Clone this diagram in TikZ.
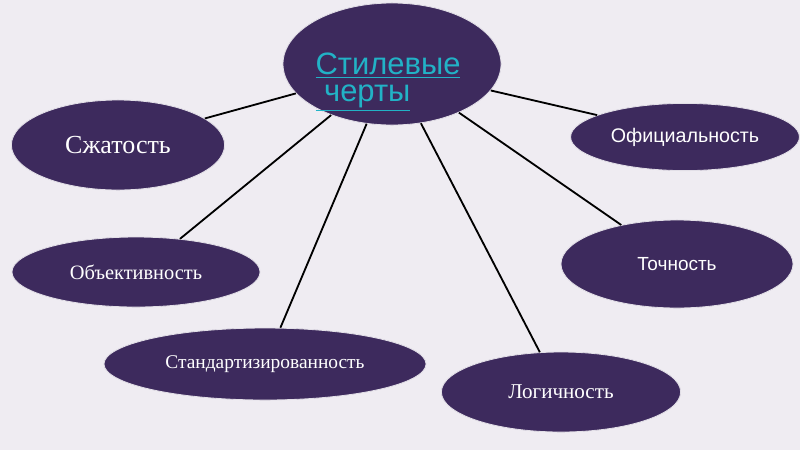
\documentclass[tikz,border=0pt]{standalone}
\usepackage{fontspec}
\setmainfont{Liberation Serif}
\setsansfont{Liberation Sans}
\usetikzlibrary{shapes.geometric}
\definecolor{bgLilac}{HTML}{EFECF2}
\definecolor{topicPurple}{HTML}{3D2A5D}
\definecolor{linkCyan}{HTML}{22B2C6}
\begin{document}
\begin{tikzpicture}[x=0.025cm,y=-0.025cm]

    \tikzstyle{topic}=[ellipse, fill=topicPurple, draw=white!85!topicPurple, line width=0.6pt,
                       inner sep=0pt, text=white]
    \tikzstyle{link}=[draw=black, line width=1.3pt]

    \fill[bgLilac] (0,0) rectangle (800,450);
    \useasboundingbox (0,0) rectangle (800,450);

    % centre
    \node[topic, minimum width=5.45cm, minimum height=3.05cm] (Traits) at (392,64) {};
    \node[text=linkCyan, font=\sffamily\fontsize{22}{19}\selectfont, align=left]
        (TraitsText) at (388,82) {\underline{Стилевые}\\\underline{\ черты}};

    % features
    \node[topic, minimum width=5.33cm, minimum height=2.25cm,
          font=\fontsize{18.5}{20}\selectfont] (Brevity) at (118,145) {Сжатость};
    \node[topic, minimum width=6.2cm, minimum height=1.75cm,
          font=\fontsize{14.5}{16}\selectfont] (Objectivity) at (136,272) {Объективность};
    \node[topic, minimum width=8.05cm, minimum height=1.8cm,
          font=\fontsize{13.8}{16}\selectfont] (Standard) at (265,364) {Стандартизированность};
    \node[topic, minimum width=5.98cm, minimum height=2cm,
          font=\fontsize{15}{16}\selectfont] (Logic) at (561,392) {Логичность};
    \node[topic, minimum width=5.8cm, minimum height=2.2cm,
          font=\sffamily\fontsize{13.5}{16}\selectfont] (Accuracy) at (677,264) {Точность};
    \node[topic, minimum width=5.72cm, minimum height=1.68cm,
          font=\sffamily\fontsize{14}{16}\selectfont] (Officiality) at (685,137) {Официальность};

    % connectors
    \draw[link] (Traits.197) -- (Brevity.17);
    \draw[link] (Traits.220) -- (Objectivity.37);
    \draw[link] (Traits.247) -- (Standard.67);
    \draw[link] (Traits.296) -- (Logic.118);
    \draw[link] (Traits.324) -- (Accuracy.145);
    \draw[link] (Traits.345) -- (Officiality.166);
\end{tikzpicture}
\end{document}
